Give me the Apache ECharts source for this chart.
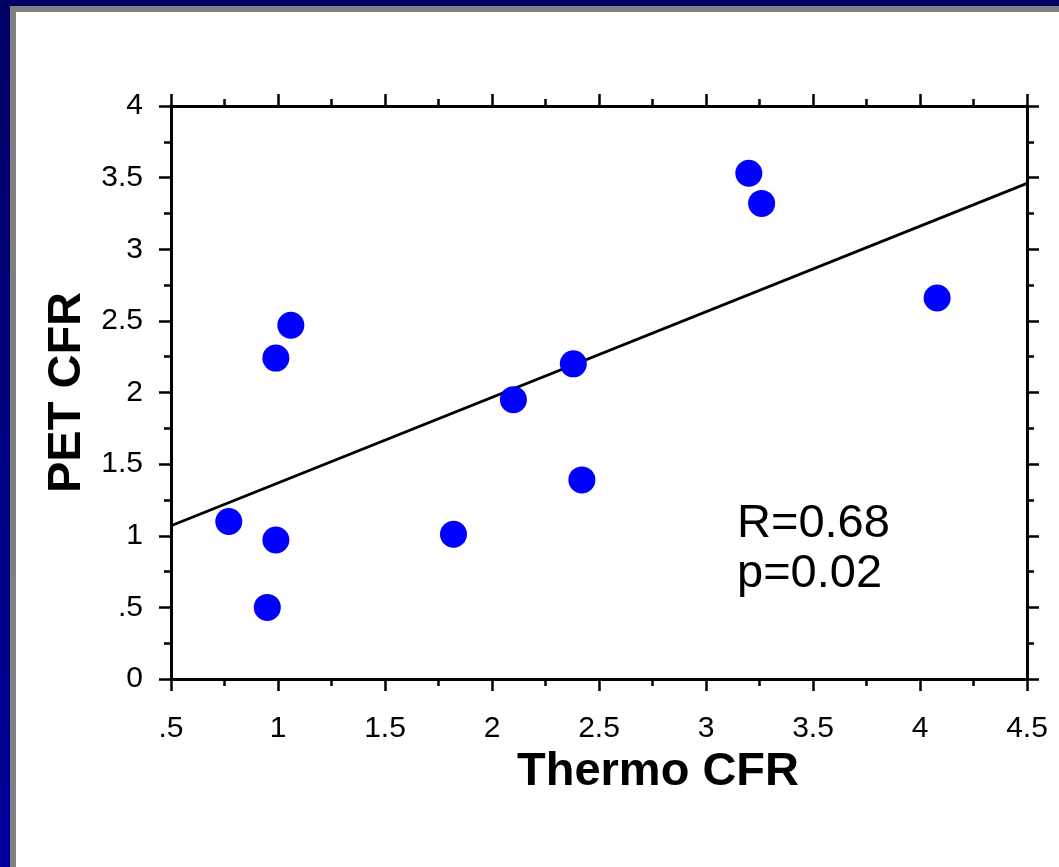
<!DOCTYPE html>
<html>
<head>
<meta charset="utf-8">
<script src="https://cdn.jsdelivr.net/npm/echarts@6/dist/echarts.min.js"></script>
<style>
html,body{margin:0;padding:0;background:#fff;}
#chart{width:1059px;height:867px;}
</style>
</head>
<body>
<div id="chart"></div>
<script>
// Data
var thermoCFR = [0.77, 0.95, 0.99, 0.99, 1.06, 1.82, 2.10, 2.38, 2.42, 3.20, 3.26, 4.08];
var petCFR    = [1.10, 0.50, 0.97, 2.24, 2.47, 1.01, 1.95, 2.20, 1.39, 3.53, 3.32, 2.66];
var fitX = [0.5, 4.5];
var fitY = [1.07, 3.46];
var xTickValues = [0.5, 1, 1.5, 2, 2.5, 3, 3.5, 4, 4.5];
var xTickLabels = ['.5', '1', '1.5', '2', '2.5', '3', '3.5', '4', '4.5'];
var yTickValues = [0, 0.5, 1, 1.5, 2, 2.5, 3, 3.5, 4];
var yTickLabels = ['0', '.5', '1', '1.5', '2', '2.5', '3', '3.5', '4'];
var statLines = ['R=0.68', 'p=0.02'];
var xTitle = 'Thermo CFR';
var yTitle = 'PET CFR';

var FONT = '"Liberation Sans", Arial, sans-serif';

function lookup(vals, labels) {
  return function (v) {
    for (var i = 0; i < vals.length; i++) {
      if (Math.abs(vals[i] - v) < 1e-6) return labels[i];
    }
    return '';
  };
}

var points = thermoCFR.map(function (x, i) { return [x, petCFR[i]]; });
var fitLine = fitX.map(function (x, i) { return [x, fitY[i]]; });

var axisLine = { show: true, onZero: false, lineStyle: { color: '#000', width: 3 } };
var axisTick = { show: true, inside: false, length: 12, lineStyle: { color: '#000', width: 2.5 } };
var minorTick = { show: true, splitNumber: 2, length: 7, lineStyle: { color: '#000', width: 2.5 } };

var chart = echarts.init(document.getElementById('chart'), null, { renderer: 'canvas' });
chart.setOption({
  backgroundColor: '#fff',
  animation: false,
  grid: { left: 171, right: 32, top: 106, bottom: 188, containLabel: false },
  xAxis: [
    {
      type: 'value', position: 'bottom', min: 0.5, max: 4.5, interval: 0.5,
      axisLine: axisLine, axisTick: axisTick, minorTick: minorTick,
      splitLine: { show: false },
      axisLabel: { show: true, margin: 35, fontSize: 30, color: '#000', fontFamily: FONT,
        formatter: lookup(xTickValues, xTickLabels) },
      name: xTitle, nameLocation: 'middle', nameGap: 68,
      nameTextStyle: { fontSize: 47, fontWeight: 'bold', color: '#000', fontFamily: FONT,
        padding: [0, 0, 0, 118] }
    },
    {
      type: 'value', position: 'top', min: 0.5, max: 4.5, interval: 0.5,
      axisLine: axisLine, axisTick: axisTick, minorTick: minorTick,
      splitLine: { show: false }, axisLabel: { show: false }
    }
  ],
  yAxis: [
    {
      type: 'value', position: 'left', min: 0, max: 4, interval: 0.5,
      axisLine: axisLine, axisTick: axisTick, minorTick: minorTick,
      splitLine: { show: false },
      axisLabel: { show: true, margin: 28, fontSize: 30, color: '#000', fontFamily: FONT,
        formatter: lookup(yTickValues, yTickLabels) },
      name: yTitle, nameLocation: 'middle', nameGap: 80, nameRotate: 90,
      nameTextStyle: { fontSize: 47, fontWeight: 'bold', color: '#000', fontFamily: FONT }
    },
    {
      type: 'value', position: 'right', min: 0, max: 4, interval: 0.5,
      axisLine: axisLine, axisTick: axisTick, minorTick: minorTick,
      splitLine: { show: false }, axisLabel: { show: false }
    }
  ],
  series: [
    {
      type: 'line', data: fitLine, xAxisIndex: 0, yAxisIndex: 0,
      showSymbol: false, symbol: 'none', silent: true,
      lineStyle: { color: '#000', width: 2.8 }, z: 2
    },
    {
      type: 'scatter', data: points, xAxisIndex: 0, yAxisIndex: 0,
      symbol: 'circle', symbolSize: 27,
      itemStyle: { color: '#0000FF', opacity: 1 }, z: 3
    }
  ],
  graphic: [
    { type: 'rect', left: 0, top: 0, shape: { width: 1059, height: 6 },
      style: { fill: '#000066' }, z: 100 },
    { type: 'rect', left: 0, top: 0, shape: { width: 10, height: 867 },
      style: { fill: new echarts.graphic.LinearGradient(0, 0, 0, 1, [
        { offset: 0, color: '#000066' }, { offset: 1, color: '#000099' }]) }, z: 100 },
    { type: 'rect', left: 10, top: 6, shape: { width: 1049, height: 6 },
      style: { fill: '#808080' }, z: 100 },
    { type: 'rect', left: 10, top: 6, shape: { width: 6, height: 861 },
      style: { fill: '#808080' }, z: 100 },
    { type: 'text', x: 737, y: 524, z: 100,
      style: { text: statLines[0], fontSize: 47, fontFamily: FONT, fill: '#000',
        textAlign: 'left', textVerticalAlign: 'middle' } },
    { type: 'text', x: 737, y: 574, z: 100,
      style: { text: statLines[1], fontSize: 47, fontFamily: FONT, fill: '#000',
        textAlign: 'left', textVerticalAlign: 'middle' } }
  ]
});
</script>
</body>
</html>
